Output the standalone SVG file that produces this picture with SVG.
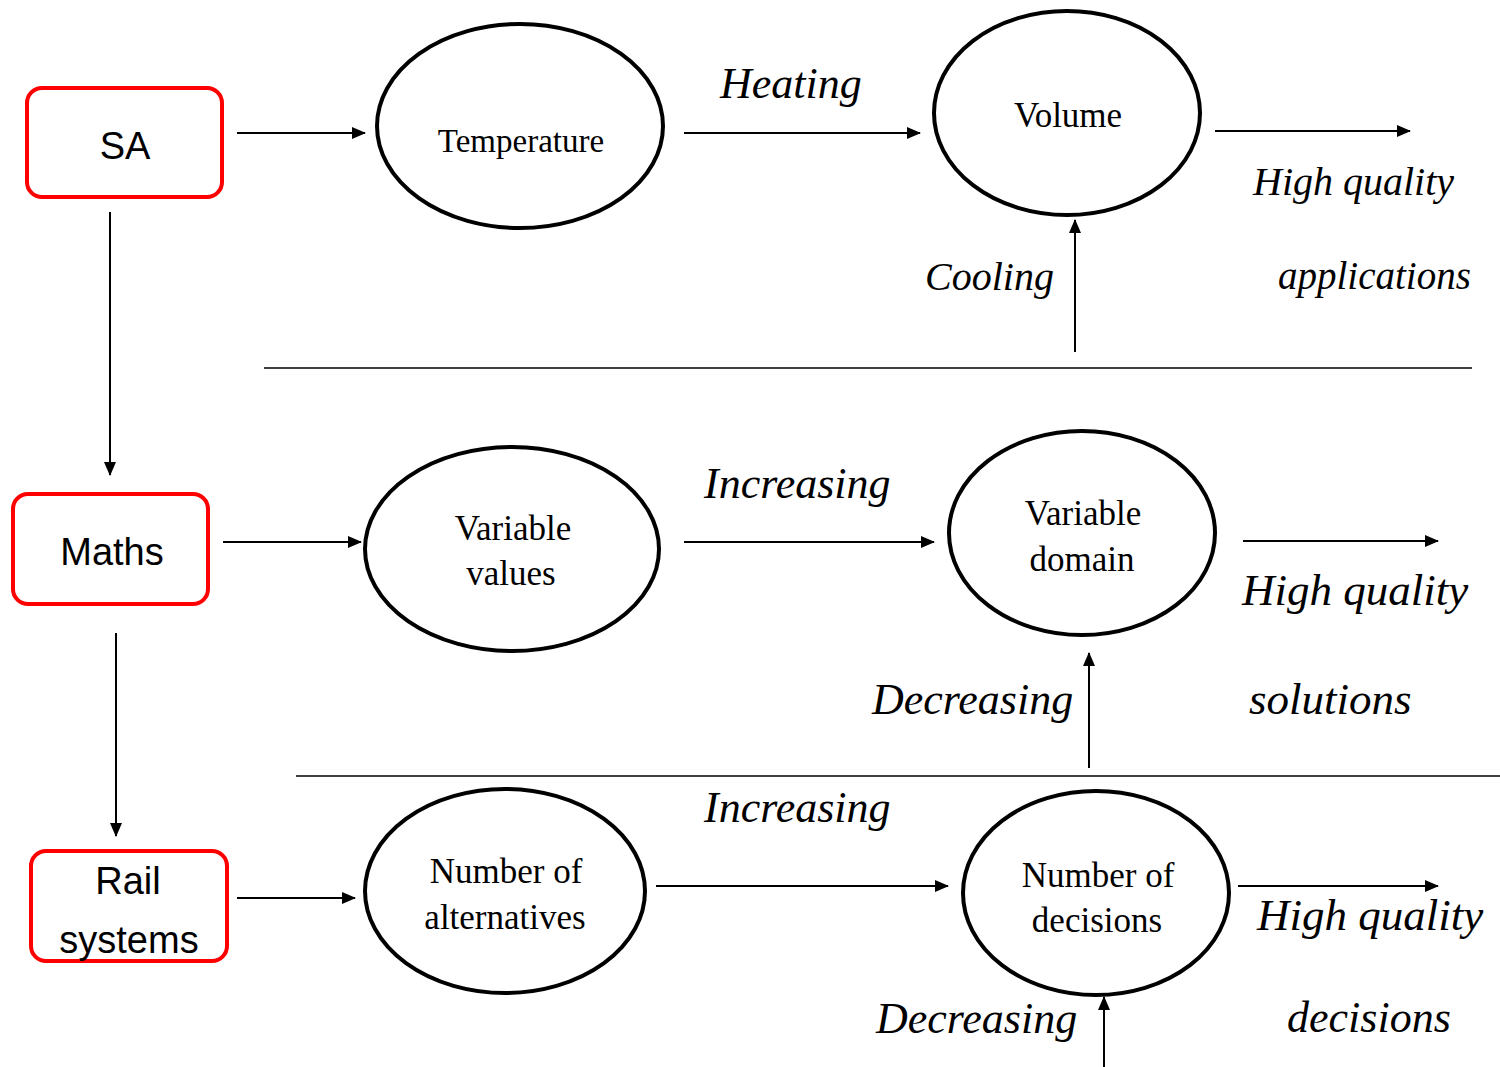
<svg xmlns="http://www.w3.org/2000/svg" width="1500" height="1067" viewBox="0 0 1500 1067">
<style>
.box{fill:#fff;stroke:#ff0000;stroke-width:4}
.ell{fill:#fff;stroke:#000;stroke-width:4}
.bt{font-family:"Liberation Sans","Open Sans",sans-serif;font-size:38px;fill:#000;text-anchor:middle}
.et{font-family:"Liberation Serif","Times New Roman",serif;font-size:35px;fill:#000;text-anchor:middle}
.lab{font-family:"Liberation Serif","Times New Roman",serif;font-style:italic;font-size:44px;fill:#000}
.arr{stroke:#000;stroke-width:2;fill:none;marker-end:url(#ah)}
.sep{stroke:#000;stroke-width:1.5}
</style>
<defs>
<marker id="ah" markerUnits="userSpaceOnUse" markerWidth="14" markerHeight="12" refX="13" refY="6" orient="auto">
<path d="M0,0 L14,6 L0,12 z" fill="#000"/>
</marker>
</defs>
<rect width="1500" height="1067" fill="#fff"/>
<g id="connectors">
<line class="arr" x1="237" y1="133" x2="365" y2="133"/>
<line class="arr" x1="110" y1="212" x2="110" y2="475"/>
<line class="arr" x1="223" y1="542" x2="361" y2="542"/>
<line class="arr" x1="116" y1="633" x2="116" y2="836"/>
<line class="arr" x1="237" y1="898" x2="355" y2="898"/>
<line class="arr" x1="684" y1="133" x2="920" y2="133"/>
<line class="arr" x1="1215" y1="131" x2="1410" y2="131"/>
<line class="arr" x1="1075" y1="352" x2="1075" y2="220"/>
<line class="arr" x1="684" y1="542" x2="934" y2="542"/>
<line class="arr" x1="1243" y1="541" x2="1438" y2="541"/>
<line class="arr" x1="1089" y1="768" x2="1089" y2="653"/>
<line class="arr" x1="656" y1="886" x2="948" y2="886"/>
<line class="arr" x1="1238" y1="886" x2="1438" y2="886"/>
<line class="arr" x1="1104" y1="1067" x2="1104" y2="997"/>
<line class="sep" x1="264" y1="368" x2="1472" y2="368"/>
<line class="sep" x1="296" y1="776" x2="1500" y2="776"/>
</g>
<g id="sa"><rect class="box" x="27" y="88" width="195" height="109" rx="15"/><text class="bt" x="125" y="159">SA</text></g>
<g id="maths"><rect class="box" x="13" y="494" width="195" height="110" rx="15"/><text class="bt" x="112" y="565">Maths</text></g>
<g id="rail"><rect class="box" x="31" y="851" width="196" height="110" rx="15"/><text class="bt" x="128" y="894">Rail</text><text class="bt" x="129" y="953">systems</text></g>
<g id="temperature"><ellipse class="ell" cx="520" cy="126" rx="143" ry="102"/><text class="et" x="521" y="152" style="font-size:33px">Temperature</text></g>
<g id="volume"><ellipse class="ell" cx="1067" cy="113" rx="133" ry="102"/><text class="et" x="1068" y="127">Volume</text></g>
<g id="variable-values"><ellipse class="ell" cx="512" cy="549" rx="147" ry="102"/><text class="et" x="513" y="540">Variable</text><text class="et" x="511" y="585">values</text></g>
<g id="variable-domain"><ellipse class="ell" cx="1082" cy="533" rx="133" ry="102"/><text class="et" x="1083" y="525">Variable</text><text class="et" x="1082" y="571">domain</text></g>
<g id="number-alternatives"><ellipse class="ell" cx="505" cy="891" rx="140" ry="102"/><text class="et" x="506" y="883">Number of</text><text class="et" x="505" y="929">alternatives</text></g>
<g id="number-decisions"><ellipse class="ell" cx="1096" cy="893" rx="133" ry="102"/><text class="et" x="1098" y="887">Number of</text><text class="et" x="1097" y="932">decisions</text></g>
<g id="labels">
<text class="lab" x="720" y="98">Heating</text>
<text class="lab" x="925" y="290" style="font-size:40px">Cooling</text>
<text class="lab" x="1253" y="195" style="font-size:40px">High quality</text>
<text class="lab" x="1278" y="289" style="font-size:39px">applications</text>
<text class="lab" x="704" y="498">Increasing</text>
<text class="lab" x="1242" y="605" style="font-size:45px">High quality</text>
<text class="lab" x="872" y="714">Decreasing</text>
<text class="lab" x="1249" y="714" style="font-size:45px">solutions</text>
<text class="lab" x="704" y="822">Increasing</text>
<text class="lab" x="1257" y="930" style="font-size:45px">High quality</text>
<text class="lab" x="1287" y="1032">decisions</text>
<text class="lab" x="876" y="1033">Decreasing</text>
</g>
</svg>
